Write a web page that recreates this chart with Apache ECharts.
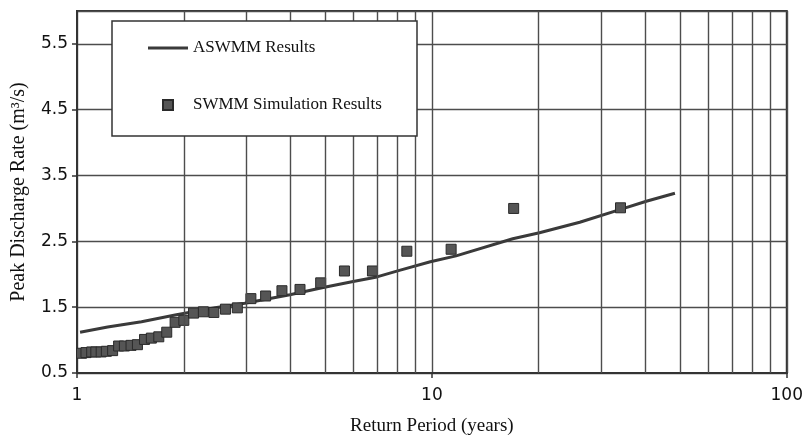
<!DOCTYPE html>
<html><head><meta charset="utf-8">
<script src="https://cdn.jsdelivr.net/npm/echarts@6/dist/echarts.min.js"></script>
<style>html,body{margin:0;padding:0;background:#fff}#c{width:806px;height:441px}</style>
</head><body><div id="c"></div>
<script>
const xTickLabels = [1, 10, 100];
const yTickLabels = [0.5, 1.5, 2.5, 3.5, 4.5, 5.5];
const xMinorGrid = [2, 3, 4, 5, 6, 7, 8, 9, 20, 30, 40, 50, 60, 70, 80, 90];

const swmmPeriod = [1.03,1.06,1.10,1.13,1.17,1.21,1.26,1.31,1.36,1.42,1.48,1.55,1.62,1.70,1.79,1.89,2.00,2.13,2.27,2.43,2.62,2.83,3.09,3.40,3.78,4.25,4.86,5.67,6.80,8.50,11.33,17.0,34.0];
const swmmPeak   = [0.80,0.81,0.82,0.82,0.82,0.83,0.84,0.91,0.91,0.92,0.93,1.01,1.03,1.05,1.12,1.27,1.30,1.41,1.43,1.42,1.47,1.49,1.63,1.67,1.75,1.77,1.87,2.05,2.05,2.35,2.38,3.00,3.01];

const aswmmPeriod = [1.02,1.22,1.52,1.89,2.45,2.97,3.98,4.94,6.0,7.0,8.1,9.9,11.7,16.9,20.1,26.1,34.2,40.2,48.4];
const aswmmPeak   = [1.12,1.20,1.28,1.38,1.49,1.56,1.69,1.80,1.89,1.96,2.06,2.19,2.28,2.54,2.63,2.79,2.99,3.11,3.23];

const serif = '"Liberation Serif", "Times New Roman", serif';
const sans = '"DejaVu Sans", sans-serif';
const gridColor = '#4d4d4d';

const chart = echarts.init(document.getElementById('c'), null, {renderer: 'canvas'});
chart.setOption({
  animation: false,
  backgroundColor: '#fff',
  grid: {left: 77, right: 19, top: 11, bottom: 66, show: true, borderColor: '#333', borderWidth: 2, backgroundColor: 'transparent'},
  xAxis: {
    type: 'log', logBase: 10, min: 1, max: 100,
    name: 'Return Period (years)', nameLocation: 'middle', nameGap: 44,
    nameTextStyle: {fontFamily: serif, fontSize: 19, color: '#111'},
    axisLine: {show: true, lineStyle: {color: '#333', width: 2}},
    axisTick: {show: true, inside: false, length: 5, lineStyle: {color: '#333', width: 1.5}},
    axisLabel: {fontFamily: sans, fontSize: 17, color: '#111', margin: 14,
      formatter: v => xTickLabels.some(t => Math.abs(t - v) < 1e-6) ? String(v) : ''},
    splitLine: {show: true, lineStyle: {color: gridColor, width: 1.4}},
    minorTick: {show: false}, minorSplitLine: {show: false}
  },
  yAxis: {
    type: 'value', min: 0.5, max: 6, interval: 1,
    name: 'Peak Discharge Rate (m³/s)', nameLocation: 'middle', nameGap: 48,
    nameTextStyle: {fontFamily: serif, fontSize: 20, color: '#111'},
    axisLine: {show: true, lineStyle: {color: '#333', width: 2}},
    axisTick: {show: true, inside: false, length: 5, lineStyle: {color: '#333', width: 1.5}},
    axisLabel: {fontFamily: sans, fontSize: 17, color: '#111', margin: 9, showMaxLabel: false,
      formatter: v => yTickLabels.some(t => Math.abs(t - v) < 1e-6) ? v.toFixed(1) : ''},
    splitLine: {show: true, lineStyle: {color: gridColor, width: 1.4}}
  },
  legend: {
    orient: 'vertical', left: 148, top: 38, padding: 0, itemGap: 37,
    itemWidth: 40, itemHeight: 10, symbolKeepAspect: true, z: 20,
    textStyle: {fontFamily: serif, fontSize: 17, color: '#111', lineHeight: 20},
    data: [
      {name: 'ASWMM Results', icon: 'path://M0,0H40V3H0Z', itemStyle: {color: '#3a3a3a'}},
      {name: 'SWMM Simulation Results', icon: 'path://M0,0H10V10H0Z'}
    ]
  },
  graphic: [{
    type: 'rect', z: 10, silent: true,
    shape: {x: 112, y: 21, width: 305, height: 115},
    style: {fill: '#fff', stroke: '#333', lineWidth: 1.5}
  }],
  series: [
    {
      name: 'grid', type: 'line', data: [], z: 1, silent: true,
      markLine: {
        silent: true, symbol: 'none', label: {show: false},
        lineStyle: {color: gridColor, width: 1.4, type: 'solid'},
        data: xMinorGrid.map(v => ({xAxis: v}))
      }
    },
    {
      name: 'ASWMM Results', type: 'line', z: 3, symbol: 'none', smooth: false,
      lineStyle: {color: '#3a3a3a', width: 3},
      itemStyle: {color: '#3a3a3a'},
      data: aswmmPeriod.map((t, i) => [t, aswmmPeak[i]])
    },
    {
      name: 'SWMM Simulation Results', type: 'scatter', z: 4, symbol: 'rect', symbolSize: 10,
      itemStyle: {color: '#555', borderColor: '#2a2a2a', borderWidth: 1, opacity: 1},
      data: swmmPeriod.map((t, i) => [t, swmmPeak[i]])
    }
  ]
});
</script></body></html>
